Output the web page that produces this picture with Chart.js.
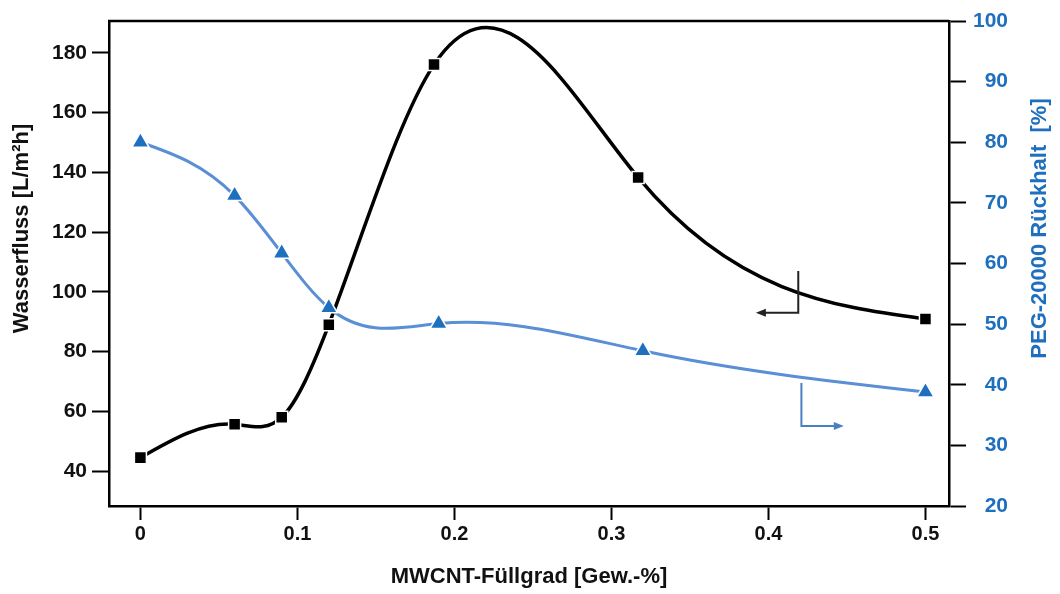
<!DOCTYPE html>
<html lang="de">
<head>
<meta charset="UTF-8">
<title>Wasserfluss und PEG-Rückhalt</title>
<script src="https://cdn.jsdelivr.net/npm/chart.js"></script>
<style>
    html, body { margin: 0; padding: 0; background: #fff; }
    .chart-box { position: relative; width: 1060px; height: 594px; }
</style>
</head>
<body>
<div class="chart-box"><canvas id="fluxChart"></canvas></div>
<script>
// Füllgrad (x) und Messwerte
const fillFlux = [0, 0.06, 0.09, 0.12, 0.187, 0.317, 0.5];
const waterFlux = [44.5, 55.7, 58.0, 89.0, 176.1, 138.3, 90.9];
const fillRet = [0, 0.06, 0.09, 0.12, 0.19, 0.32, 0.5];
const pegRetention = [80, 71.2, 61.7, 52.7, 50.1, 45.6, 38.8];

const xTicks = [0, 0.1, 0.2, 0.3, 0.4, 0.5];
const fluxTicks = [40, 60, 80, 100, 120, 140, 160, 180];
const retTicks = [20, 30, 40, 50, 60, 70, 80, 90, 100];

// Pfeile: welche Kurve gehört zu welcher Achse
const fluxArrow = { x: 0.419, yFrom: 107, yTo: 93, xTo: 0.392 };
const retArrow = { x: 0.421, yFrom: 40.3, yTo: 33.2, xTo: 0.448 };

const BLUE = '#1f6fbf';
const LINE_BLUE = '#5a8fd6';
const FONT = 'Liberation Sans, Arial, sans-serif';

// natürlicher kubischer Spline statt der Standard-Bezierkurven
const naturalSpline = {
    id: 'naturalSpline',
    beforeDatasetDraw(chart, args) {
        const meta = args.meta;
        const pts = meta.data;
        const n = pts.length;
        if (n < 3) return;
        meta.dataset.updateControlPoints(chart.chartArea, 'x');
        const xs = pts.map(p => p.x), ys = pts.map(p => p.y);
        const h = [];
        for (let i = 0; i < n - 1; i++) h.push(xs[i + 1] - xs[i]);
        const M = new Array(n).fill(0);
        const a = [], b = [], c = [], d = [];
        for (let i = 1; i < n - 1; i++) {
            a.push(h[i - 1]);
            b.push(2 * (h[i - 1] + h[i]));
            c.push(h[i]);
            d.push(6 * ((ys[i + 1] - ys[i]) / h[i] - (ys[i] - ys[i - 1]) / h[i - 1]));
        }
        const m = b.length;
        for (let i = 1; i < m; i++) {
            const w = a[i] / b[i - 1];
            b[i] -= w * c[i - 1];
            d[i] -= w * d[i - 1];
        }
        M[m] = d[m - 1] / b[m - 1];
        for (let i = m - 2; i >= 0; i--) M[i + 1] = (d[i] - c[i] * M[i + 2]) / b[i];
        for (let i = 0; i < n - 1; i++) {
            const s = (ys[i + 1] - ys[i]) / h[i];
            const d0 = s - h[i] * (2 * M[i] + M[i + 1]) / 6;
            const d1 = s + h[i] * (M[i] + 2 * M[i + 1]) / 6;
            pts[i].cp2x = xs[i] + h[i] / 3;
            pts[i].cp2y = ys[i] + d0 * h[i] / 3;
            pts[i + 1].cp1x = xs[i + 1] - h[i] / 3;
            pts[i + 1].cp1y = ys[i + 1] - d1 * h[i] / 3;
        }
    }
};

function drawArrow(ctx, xs, ys, arrow, color, dir) {
    const x0 = xs.getPixelForValue(arrow.x);
    const y0 = ys.getPixelForValue(arrow.yFrom);
    const y1 = ys.getPixelForValue(arrow.yTo);
    const x1 = xs.getPixelForValue(arrow.xTo);
    ctx.strokeStyle = color;
    ctx.fillStyle = color;
    ctx.lineWidth = 2;
    ctx.beginPath();
    ctx.moveTo(x0, y0);
    ctx.lineTo(x0, y1);
    ctx.lineTo(x1 - dir * 6, y1);
    ctx.stroke();
    ctx.beginPath();
    ctx.moveTo(x1, y1);
    ctx.lineTo(x1 - dir * 10, y1 - 4);
    ctx.lineTo(x1 - dir * 10, y1 + 4);
    ctx.closePath();
    ctx.fill();
}

function drawVerticalTitle(ctx, text, x, y, color) {
    ctx.save();
    ctx.translate(x, y);
    ctx.rotate(-Math.PI / 2);
    ctx.font = 'bold 22px ' + FONT;
    ctx.fillStyle = color;
    ctx.textAlign = 'center';
    ctx.textBaseline = 'middle';
    ctx.fillText(text, 0, 0);
    ctx.restore();
}

// oberer Rahmen, Achsentitel links/rechts und die beiden Zuordnungspfeile
const frameAndArrows = {
    id: 'frameAndArrows',
    afterDraw(chart) {
        const ctx = chart.ctx;
        const area = chart.chartArea;
        const s = chart.scales;
        ctx.save();
        ctx.strokeStyle = '#000';
        ctx.lineWidth = 2.5;
        ctx.beginPath();
        ctx.moveTo(area.left - 1, area.top);
        ctx.lineTo(area.right, area.top);
        ctx.stroke();
        drawArrow(ctx, s.x, s.y, fluxArrow, '#222', -1);
        drawArrow(ctx, s.x, s.y2, retArrow, '#4a7fc4', 1);
        const midY = (area.top + area.bottom) / 2 - 35;
        drawVerticalTitle(ctx, 'Wasserfluss [L/m²h]', s.y.left + 22, midY, '#111');
        drawVerticalTitle(ctx, 'PEG-20000 Rückhalt  [%]', chart.width - 20, midY, BLUE);
        ctx.restore();
    }
};

const axisGrid = {
    drawOnChartArea: false,
    tickLength: 17,
    tickWidth: 2,
    tickColor: '#000'
};

const ctx = document.getElementById('fluxChart').getContext('2d');
new Chart(ctx, {
    type: 'line',
    data: {
        datasets: [{
            label: 'PEG-20000 Rückhalt',
            data: fillRet.map((x, i) => ({ x: x, y: pegRetention[i] })),
            yAxisID: 'y2',
            borderColor: LINE_BLUE,
            borderWidth: 3,
            tension: 0.4,
            pointStyle: 'triangle',
            pointRadius: 10,
            pointBackgroundColor: BLUE,
            pointBorderColor: '#fff',
            pointBorderWidth: 1.5
        }, {
            label: 'Wasserfluss',
            data: fillFlux.map((x, i) => ({ x: x, y: waterFlux[i] })),
            yAxisID: 'y',
            borderColor: '#000',
            borderWidth: 3.5,
            tension: 0.4,
            pointStyle: 'rect',
            pointRadius: 8.5,
            pointBackgroundColor: '#000',
            pointBorderColor: '#fff',
            pointBorderWidth: 1.5
        }]
    },
    options: {
        responsive: true,
        maintainAspectRatio: false,
        animation: false,
        layout: { padding: { top: 21, left: 0, right: 52, bottom: 0 } },
        plugins: {
            legend: { display: false },
            tooltip: { enabled: false }
        },
        scales: {
            x: {
                type: 'linear',
                min: -0.02,
                max: 0.515,
                afterBuildTicks: axis => { axis.ticks = xTicks.map(v => ({ value: v })); },
                afterFit: axis => { axis.height = 88; },
                grid: { ...axisGrid, tickLength: 14 },
                border: { color: '#000', width: 2.5 },
                ticks: {
                    color: '#111',
                    padding: 2,
                    maxRotation: 0,
                    font: { family: FONT, size: 20, weight: 'bold' },
                    callback: v => v === 0 ? '0' : v.toFixed(1)
                },
                title: {
                    display: true,
                    text: 'MWCNT-Füllgrad [Gew.-%]',
                    color: '#111',
                    padding: { top: 0, bottom: 4 },
                    font: { family: FONT, size: 22, weight: 'bold' }
                }
            },
            y: {
                position: 'left',
                min: 28.3,
                max: 190.7,
                afterBuildTicks: axis => { axis.ticks = fluxTicks.map(v => ({ value: v })); },
                afterFit: axis => { axis.width = 109; },
                grid: axisGrid,
                border: { color: '#000', width: 2.5 },
                ticks: {
                    color: '#111',
                    padding: 5,
                    font: { family: FONT, size: 21, weight: 'bold' }
                }
            },
            y2: {
                position: 'right',
                min: 20,
                max: 100,
                afterBuildTicks: axis => { axis.ticks = retTicks.map(v => ({ value: v })); },
                afterFit: axis => { axis.width = 59; },
                grid: axisGrid,
                border: { color: '#000', width: 2.5 },
                ticks: {
                    color: BLUE,
                    padding: 7,
                    crossAlign: 'far',
                    font: { family: FONT, size: 21, weight: 'bold' }
                }
            }
        }
    },
    plugins: [naturalSpline, frameAndArrows]
});
</script>
</body>
</html>
